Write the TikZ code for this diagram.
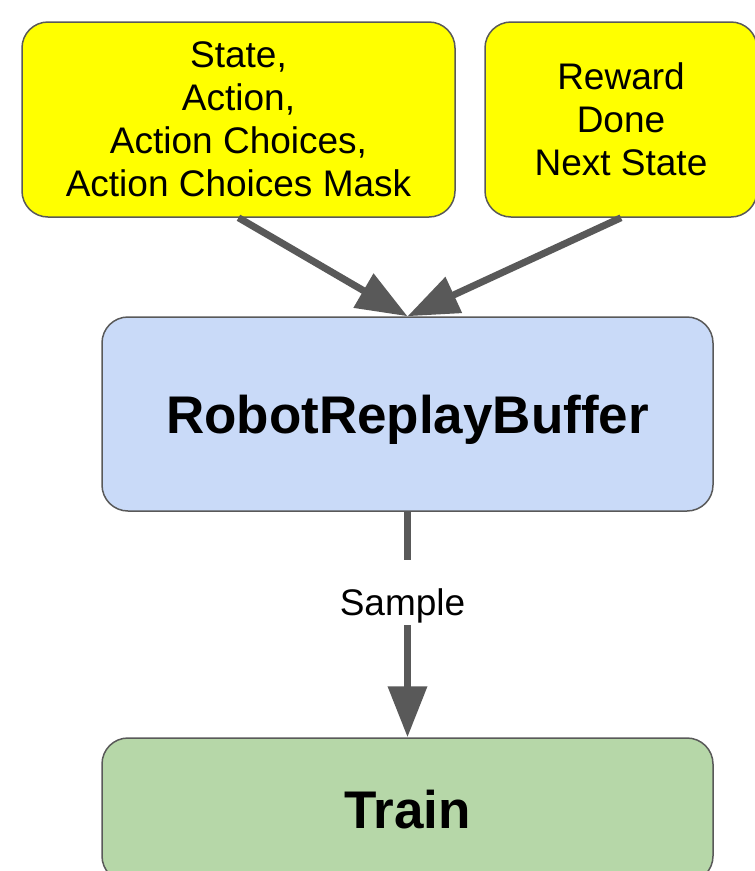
\documentclass[tikz,border=0pt]{standalone}
\usepackage{fontspec}
\setmainfont{Liberation Sans}
\usetikzlibrary{arrows.meta}
\definecolor{yel}{HTML}{FFFF00}
\definecolor{blu}{HTML}{C9DAF8}
\definecolor{grn}{HTML}{B6D7A8}
\definecolor{edgegray}{HTML}{595959}
\begin{document}
\begin{tikzpicture}[x=1pt,y=-1pt,
  box/.style={draw=edgegray, line width=1.5pt, rounded corners=26pt, align=center, inner sep=0pt},
  txt/.style={font=\fontsize{37}{43}\selectfont},
  bigtxt/.style={font=\fontsize{53}{60}\selectfont\bfseries},
  arr/.style={draw=edgegray, line width=7pt, -{Triangle[length=51pt,width=38pt]}}]
\useasboundingbox (0,0) rectangle (755,871);
\clip (0,0) rectangle (755,871);
\node[box, txt, fill=yel, minimum width=433pt, minimum height=195pt] (s) at (238.5,119.5)
  {State,\\Action,\\Action Choices,\\Action Choices Mask};
\node[box, txt, fill=yel, minimum width=272pt, minimum height=195pt] (r) at (621,119.5)
  {Reward\\Done\\Next State};
\node[box, bigtxt, fill=blu, minimum width=611pt, minimum height=194pt, text depth=0pt] (buf) at (407.5,414)
  {RobotReplayBuffer};
\node[box, bigtxt, fill=grn, minimum width=611pt, minimum height=144pt] (train) at (407.5,810)
  {Train};
\draw[arr] (s.south) -- (buf.north);
\draw[arr] (r.south) -- (buf.north);
\draw[arr] (buf.south) -- (train.north);
\node[txt, fill=white, anchor=base, text height=55pt, text depth=10pt, inner sep=0pt] (smp) at (402.5,615) {Sample};
\end{tikzpicture}
\end{document}
